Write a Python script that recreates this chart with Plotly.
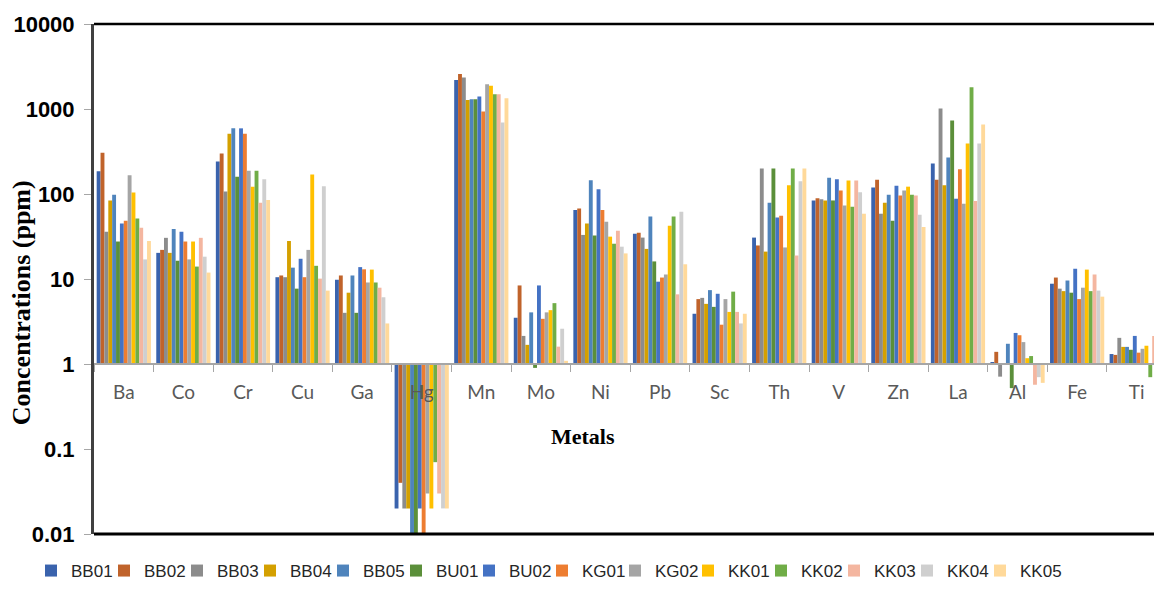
import plotly.graph_objects as go

metals = ["Ba", "Co", "Cr", "Cu", "Ga", "Hg", "Mn", "Mo", "Ni", "Pb", "Sc", "Th",
          "V", "Zn", "La", "Al", "Fe", "Ti"]

BB01 = [185, 20.3, 242, 10.5, 9.8, 0.02, 2190, 3.5, 65, 34, 3.9, 30.7, 84, 119, 229, 1.05, 8.8, 1.31]
BB02 = [305, 22, 300, 11, 11, 0.04, 2580, 8.4, 67.6, 35, 5.8, 24.8, 89, 147, 147, 1.39, 10.4, 1.28]
BB03 = [36, 30.5, 107, 10.5, 4, 0.02, 2350, 2.14, 33, 30.7, 6.0, 200, 87, 58.6, 1014, 0.71, 7.7, 2.03]
BB04 = [84, 20.3, 513, 28, 6.9, 0.02, 1280, 1.68, 45, 22.6, 5.1, 21, 84, 79, 127, 1.0, 7.2, 1.59]
BB05 = [98, 38.8, 592, 13.6, 11, 0.01, 1300, 4.05, 145, 54.5, 7.4, 79, 155, 98, 269, 1.73, 9.6, 1.59]
BU01 = [27.6, 16.4, 160, 7.7, 4, 0.01, 1300, 0.9, 32.4, 16.1, 4.7, 200, 84, 48.5, 734, 0.52, 6.9, 1.47]
BU02 = [45, 36, 592, 17.3, 13.8, 0.02, 1400, 8.4, 114, 9.3, 6.7, 53, 149, 125, 88, 2.32, 13.2, 2.14]
KG01 = [48.5, 27.6, 513, 10.5, 13, 0.01, 935, 3.4, 65, 10.4, 2.9, 55.5, 110, 96, 195, 2.18, 5.8, 1.36]
KG02 = [166, 17, 188, 22, 9.1, 0.03, 1950, 4.05, 47, 11.3, 5.8, 23.5, 73, 110, 77, 1.81, 7.9, 1.51]
KK01 = [104, 27.6, 122, 170, 12.9, 0.02, 1880, 4.3, 31.5, 42.4, 4.1, 127, 144, 122, 392, 1.17, 12.9, 1.64]
KK02 = [51.6, 14, 188, 14.3, 9.1, 0.07, 1490, 5.2, 26, 54.5, 7.1, 200, 71, 98, 1800, 1.24, 7.2, 0.7]
KK03 = [40, 30.5, 79, 10.1, 7.9, 0.03, 1490, 1.6, 37, 6.6, 4.1, 18.9, 144, 96, 83, 0.57, 11.3, 2.14]
KK04 = [17, 18.3, 149, 123, 6.1, 0.02, 695, 2.6, 24, 62, 3.0, 141, 105, 57, 392, 0.70, 7.3, 1.5]
KK05 = [28, 11.9, 85, 7.3, 3.0, 0.02, 1340, 1.09, 20, 14.9, 3.9, 200, 58.6, 41, 659, 0.6, 6.2, 1.4]

series_names = ["BB01", "BB02", "BB03", "BB04", "BB05", "BU01", "BU02",
                "KG01", "KG02", "KK01", "KK02", "KK03", "KK04", "KK05"]
series_values = [BB01, BB02, BB03, BB04, BB05, BU01, BU02,
                 KG01, KG02, KK01, KK02, KK03, KK04, KK05]
colors = ["#3A63AD", "#C0632B", "#8C8C8C", "#D4A000", "#4F84BC", "#5B8F3A", "#4472C4",
          "#ED7D31", "#A5A5A5", "#FFC000", "#70AD47", "#F4B6A0", "#CFCFCF", "#FFD99A"]

y_ticks = [0.01, 0.1, 1, 10, 100, 1000, 10000]
y_ticktext = ["0.01", "0.1", "1", "10", "100", "1000", "10000"]

BASE = 1.0

fig = go.Figure()
for name, vals, col in zip(series_names, series_values, colors):
    fig.add_trace(go.Bar(
        x=metals,
        y=[v - BASE for v in vals],
        base=[BASE] * len(vals),
        name=name,
        marker=dict(color=col, line=dict(width=0)),
    ))

# invisible spacer legend entry so the last real legend label is not clipped
fig.add_trace(go.Scatter(x=[None], y=[None], mode="markers", name=" ",
                         marker=dict(color="rgba(0,0,0,0)"), hoverinfo="skip"))

W, H = 1154, 589
L, R, T, B = 94, 0, 24, 48
pw, ph = W - L - R, H - T - B

def px_x(x):
    return (x - L) / pw

def px_y(y):
    return (H - B - y) / ph

fig.update_layout(
    width=W, height=H,
    margin=dict(l=L, r=R, t=T, b=B),
    paper_bgcolor="white", plot_bgcolor="white",
    barmode="group", bargap=0.09, bargroupgap=0,
    showlegend=True,
    legend=dict(orientation="h", x=px_x(31), xanchor="left", y=px_y(579), yanchor="middle",
                font=dict(family="Liberation Sans, Arial", size=17, color="#262626"),
                entrywidth=28, entrywidthmode="pixels", itemwidth=30,
                bgcolor="rgba(0,0,0,0)"),
    xaxis=dict(type="category", anchor="free", position=2 / 6,
               range=[-0.5, 17.29], showgrid=False, zeroline=False,
               showline=True, linecolor="#A6A6A6", linewidth=1.5,
               ticks="outside", tickson="boundaries", ticklen=7, tickcolor="#A6A6A6",
               ticklabelstandoff=11,
               tickfont=dict(family="Lato, Carlito, Calibri, sans-serif", size=19, color="#595959")),
    yaxis=dict(type="log", range=[-2, 4], tickvals=y_ticks, ticktext=y_ticktext,
               showgrid=False, zeroline=False, showline=True, linecolor="#404040", linewidth=3,
               ticks="outside", ticklen=7, tickcolor="#A6A6A6", ticklabelstandoff=5,
               tickfont=dict(family="Liberation Sans, Arial", size=22, color="#000000", weight="bold")),
    shapes=[
        dict(type="line", xref="paper", yref="paper", x0=0, x1=1, y0=1, y1=1,
             line=dict(color="#000000", width=2.5)),
        dict(type="line", xref="paper", yref="paper", x0=0, x1=1, y0=0, y1=0,
             line=dict(color="#000000", width=3)),
    ],
    annotations=[
        dict(text="<b>Concentrations (ppm)</b>", xref="paper", yref="paper",
             x=px_x(21), y=px_y(307), textangle=-90, showarrow=False,
             xanchor="center", yanchor="middle",
             font=dict(family="Liberation Serif, Times New Roman", size=26, color="#000000")),
        dict(text="<b>Metals</b>", xref="paper", yref="paper",
             x=px_x(583), y=px_y(442), showarrow=False,
             xanchor="center", yanchor="middle",
             font=dict(family="Liberation Serif, Times New Roman", size=22, color="#000000")),
    ],
)

fig.write_html("out.html")
